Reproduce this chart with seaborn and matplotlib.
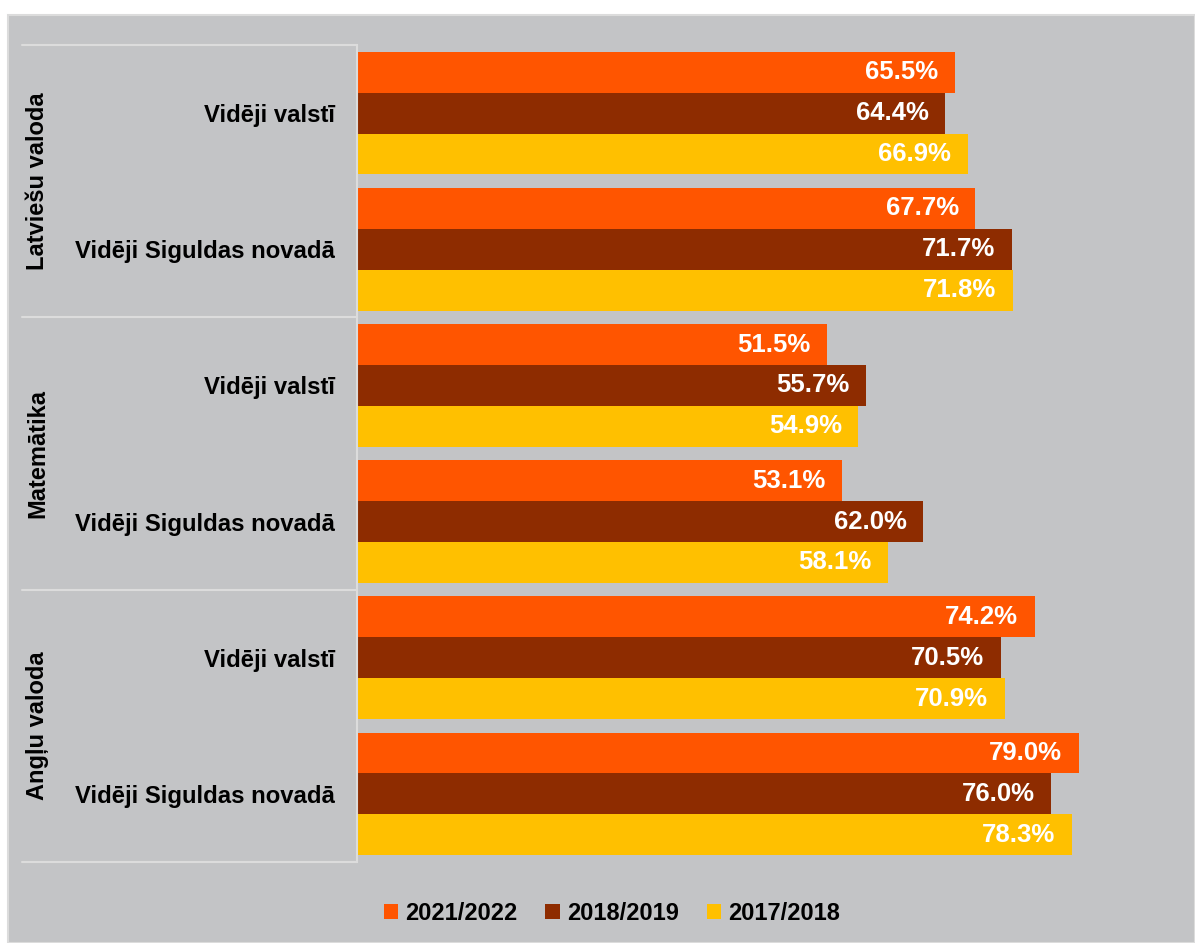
import pandas as pd
import matplotlib.pyplot as plt
import matplotlib.transforms as mtransforms
from matplotlib.patches import Rectangle, Patch
import seaborn as sns

# Chart data
subjects = ['Latviešu valoda', 'Matemātika', 'Angļu valoda']
groups = ['Vidēji valstī', 'Vidēji Siguldas novadā']
years = ['2021/2022', '2018/2019', '2017/2018']
vals_2122 = [65.5, 67.7, 51.5, 53.1, 74.2, 79.0]
vals_1819 = [64.4, 71.7, 55.7, 62.0, 70.5, 76.0]
vals_1718 = [66.9, 71.8, 54.9, 58.1, 70.9, 78.3]
colors = ['#FF5500', '#8E2C00', '#FFC000']

bg = '#C3C4C6'
line_col = '#DCDCDC'

# Build long table, one row per bar
rows = [f'{s} | {g}' for s in subjects for g in groups]
records = []
for year, vals in zip(years, [vals_2122, vals_1819, vals_1718]):
    for r, v in zip(rows, vals):
        records.append({'row': r, 'year': year, 'value': v})
df = pd.DataFrame(records)

sns.set_style('white')
plt.rcParams['font.family'] = ['Liberation Sans', 'DejaVu Sans']
plt.rcParams['text.color'] = 'black'
plt.rcParams['ytick.labelcolor'] = 'black'

W, H = 1195, 943
fig = plt.figure(figsize=(W / 100, H / 100), dpi=100, facecolor='white')
fig.patches.append(Rectangle((8 / W, 0), 1 - 8 / W, 1 - 15 / H, transform=fig.transFigure,
                             facecolor=bg, edgecolor=line_col, linewidth=1.5, zorder=-10))

ax = fig.add_axes([357 / W, 1 - 862 / H, (1179 - 357) / W, (862 - 45) / H])
ax.set_facecolor('none')

sns.barplot(data=df, y='row', x='value', hue='year', hue_order=years, order=rows,
            palette=colors, orient='h', width=0.9, saturation=1, ax=ax,
            edgecolor='none', legend=False)

ax.set_xlim(0, 90)
ax.set_ylim(5.5, -0.5)
ax.set_xlabel('')
ax.set_ylabel('')
ax.set_xticks([])
ax.set_yticks(range(len(rows)), labels=[g for s in subjects for g in groups])
ax.tick_params(axis='y', length=0, pad=16, labelsize=17.2, labelcolor='black')
for t in ax.get_yticklabels():
    t.set_fontweight('bold')

for side in ['top', 'right', 'bottom']:
    ax.spines[side].set_visible(False)
ax.spines['left'].set_color(line_col)
ax.spines['left'].set_linewidth(1.5)

# Value labels inside the bar ends
for cont in ax.containers:
    labels = ax.bar_label(cont, fmt='%.1f%%', padding=-12, color='white',
                          fontsize=18.5, fontweight='bold')
    for lb in labels:
        lb.set_ha('right')

# Subject labels and separators on the left
trans = mtransforms.blended_transform_factory(fig.transFigure, ax.transData)
for i, s in enumerate(subjects):
    ax.text(38 / W, 2 * i + 0.5, s, transform=trans, rotation=90, ha='center',
            va='center', fontsize=17, fontweight='bold', color='black', clip_on=False)
for y in [-0.5, 1.5, 3.5, 5.5]:
    ax.plot([22 / W, 357 / W], [y, y], transform=trans, color=line_col,
            linewidth=1.5, clip_on=False)

# Legend at the bottom
handles = [Patch(facecolor=c, edgecolor='none') for c in colors]
fig.legend(handles, years, loc='center', bbox_to_anchor=(0.512, 1 - 913 / H), ncol=3,
           frameon=False, prop={'size': 17, 'weight': 'bold'},
           handlelength=0.6, handleheight=0.6, handletextpad=0.3, columnspacing=1.2)

fig.savefig('out.png', dpi=100, facecolor='white')
